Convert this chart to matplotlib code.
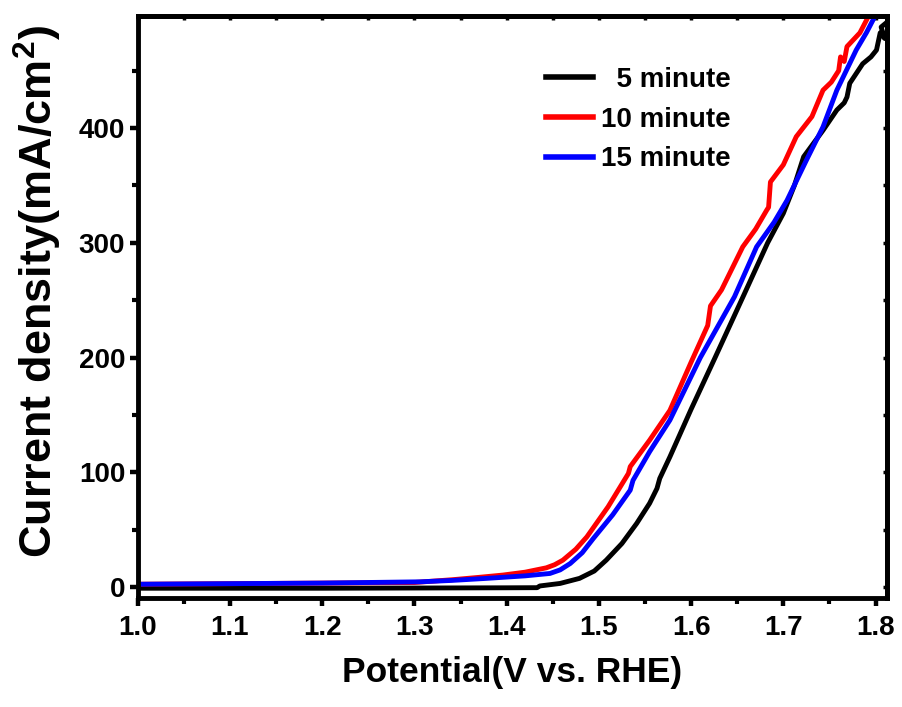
import numpy as np
import matplotlib
matplotlib.use('Agg')
import matplotlib.pyplot as plt
from matplotlib.ticker import MultipleLocator, FormatStrFormatter

plt.rcParams['font.family'] = ['Liberation Sans', 'DejaVu Sans']
plt.rcParams['font.weight'] = 'bold'
plt.rcParams['mathtext.fontset'] = 'custom'
plt.rcParams['mathtext.rm'] = 'Liberation Sans:bold'
plt.rcParams['mathtext.default'] = 'rm'

# LSV data (potential in V vs RHE, current density in mA/cm2)
v_5min = [1.000, 1.100, 1.200, 1.300, 1.400, 1.433, 1.436, 1.458, 1.479, 1.495, 1.508,
          1.525, 1.541, 1.555, 1.563, 1.566, 1.577, 1.600, 1.626, 1.658, 1.683, 1.700,
          1.712, 1.722, 1.743, 1.758, 1.766, 1.769, 1.772, 1.786, 1.795, 1.801, 1.805,
          1.810, 1.806, 1.812]
j_5min = [-1.0, -1.0, -1.0, -0.8, -0.6, -0.5, 1.0, 3.2, 7.6, 14.0, 23.5,
          38.0, 55.5, 73.0, 86.0, 94.7, 113.5, 155.0, 200.0, 256.0, 300.0, 325.7,
          350.0, 375.0, 398.0, 415.7, 422.0, 427.0, 439.0, 456.0, 462.0, 468.0, 483.0,
          478.0, 488.0, 492.0]

v_10min = [1.000, 1.100, 1.200, 1.300, 1.342, 1.370, 1.396, 1.420, 1.443, 1.452, 1.461,
           1.475, 1.487, 1.510, 1.532, 1.534, 1.555, 1.577, 1.600, 1.618, 1.621, 1.633,
           1.656, 1.670, 1.682, 1.684, 1.686, 1.700, 1.714, 1.731, 1.743, 1.752, 1.760,
           1.762, 1.766, 1.769, 1.783, 1.794]
j_10min = [2.5, 3.0, 3.5, 4.0, 6.5, 8.5, 10.5, 13.0, 16.8, 19.5, 23.5,
           33.0, 43.8, 70.0, 99.0, 105.0, 128.0, 154.0, 196.0, 228.0, 245.0, 259.0,
           296.5, 312.0, 328.5, 331.0, 353.0, 368.0, 392.5, 410.0, 433.0, 440.0, 450.0,
           462.0, 458.0, 471.0, 483.0, 500.0]

v_15min = [1.000, 1.100, 1.200, 1.306, 1.340, 1.378, 1.420, 1.447, 1.458, 1.469, 1.482,
           1.494, 1.515, 1.534, 1.537, 1.555, 1.577, 1.610, 1.647, 1.671, 1.690, 1.704,
           1.725, 1.743, 1.758, 1.779, 1.790, 1.801]
j_15min = [2.5, 3.0, 3.5, 4.6, 5.8, 7.6, 9.8, 11.9, 15.0, 20.6, 30.0,
           42.4, 63.0, 84.5, 93.0, 118.0, 145.5, 200.0, 253.0, 296.5, 318.0, 337.0,
           372.0, 401.0, 433.0, 468.0, 483.0, 500.0]

series = [(v_5min, j_5min, 'black', '  5 minute'),
          (v_10min, j_10min, '#ff0000', '10 minute'),
          (v_15min, j_15min, '#0000ff', '15 minute')]

fig = plt.figure(figsize=(9.03, 7.07), dpi=100)
ax = fig.add_axes([0.1525, 0.154, 0.8298, 0.8233])

for v, j, col, lab in series:
    ax.plot(v, j, color=col, lw=3.5, label=lab, solid_joinstyle='round')

ax.set_xlim(1.0, 1.8124)
ax.set_ylim(-9.6, 497.6)

ax.xaxis.set_major_locator(MultipleLocator(0.1))
ax.xaxis.set_minor_locator(MultipleLocator(0.05))
ax.yaxis.set_major_locator(MultipleLocator(100))
ax.yaxis.set_minor_locator(MultipleLocator(50))
ax.xaxis.set_major_formatter(FormatStrFormatter('%.1f'))

for s in ax.spines.values():
    s.set_linewidth(3.5)

ax.tick_params(which='major', direction='out', length=6, width=3.2, pad=3,
               labelsize=20)
ax.tick_params(axis='x', which='major', pad=6)
ax.tick_params(which='minor', direction='out', length=4, width=3.0)
for t in ax.get_xticklabels() + ax.get_yticklabels():
    t.set_fontweight('bold')

# short inward ticks on the top and right sides
top = ax.secondary_xaxis('top')
right = ax.secondary_yaxis('right')
top.xaxis.set_major_locator(MultipleLocator(0.05))
right.yaxis.set_major_locator(MultipleLocator(50))
for sec in (top, right):
    sec.tick_params(direction='in', length=3, width=2.5, labeltop=False,
                    labelright=False)
    for s in sec.spines.values():
        s.set_linewidth(3.5)

ax.set_xlabel('Potential(V vs. RHE)', fontsize=25.5, fontweight='bold', labelpad=11)
ax.set_ylabel('Current density(mA/cm$^{2}$)', fontsize=32.5, fontweight='bold')
ax.yaxis.set_label_coords(-0.098, 0.527)

leg = ax.legend(loc='upper left', bbox_to_anchor=(0.511, 0.956), frameon=False,
                handlelength=1.7, handletextpad=0.3, labelspacing=0.5,
                prop={'weight': 'bold', 'size': 20})
for line in leg.get_lines():
    line.set_linewidth(4)

fig.savefig('out.png', dpi=100)
